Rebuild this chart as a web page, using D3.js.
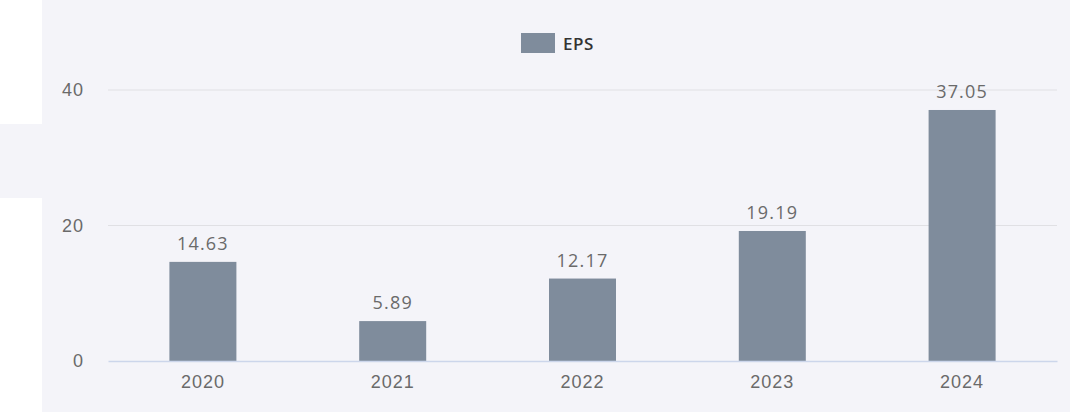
<!DOCTYPE html>
<html>
<head>
<meta charset="utf-8">
<script src="https://cdn.jsdelivr.net/npm/d3@7"></script>
<style>
  body { margin: 0; background: #f4f4f9; }
  svg { display: block; font-family: "Open Sans", "DejaVu Sans", sans-serif; }
</style>
</head>
<body>
<div id="container"></div>
<script>
/* DATA */
const years = ["2020", "2021", "2022", "2023", "2024"];
const eps = [14.63, 5.89, 12.17, 19.19, 37.05];
const yTicks = [0, 20, 40];
const seriesName = "EPS";

/* CONSTANTS */
const W = 1070, H = 412;
const margin = {top: 90, right: 13, bottom: 51, left: 108};
const width = W - margin.left - margin.right;
const height = H - margin.top - margin.bottom;
const barColor = "#7f8c9c";
const textColor = "#6a6a6a";

const svg = d3.select("#container")
  .append("svg")
  .attr("width", W)
  .attr("height", H);

svg.append("rect").attr("width", W).attr("height", H).attr("fill", "#f4f4f9");
// white strip on the left edge of the screenshot
svg.append("rect").attr("x", 0).attr("y", 0).attr("width", 42).attr("height", 124).attr("fill", "#ffffff");
svg.append("rect").attr("x", 0).attr("y", 198).attr("width", 42).attr("height", H - 198).attr("fill", "#ffffff");

const g = svg.append("g")
  .attr("transform", `translate(${margin.left},${margin.top})`);

/* SCALES */
const x = d3.scaleBand()
  .domain(years)
  .range([0, width])
  .paddingInner(0.647)
  .paddingOuter(0.3235);

const y = d3.scaleLinear()
  .domain([0, 40])
  .range([height, 0]);

/* GRID */
g.append("g")
  .selectAll("line")
  .data(yTicks.filter(d => d !== 0))
  .join("line")
  .attr("x1", 0).attr("x2", width)
  .attr("y1", d => y(d)).attr("y2", d => y(d))
  .attr("stroke", "#e0e0e4")
  .attr("stroke-width", 1);

/* Y AXIS */
const yAxis = g.append("g")
  .call(d3.axisLeft(y).tickValues(yTicks).tickSize(0).tickPadding(24));
yAxis.select(".domain").remove();
yAxis.selectAll("text")
  .attr("fill", textColor)
  .style("font-size", "18px")
  .style("letter-spacing", "1px");

/* BARS */
g.append("g")
  .selectAll("rect")
  .data(eps)
  .join("rect")
  .attr("x", (d, i) => x(years[i]))
  .attr("y", d => y(d))
  .attr("width", x.bandwidth())
  .attr("height", d => height - y(d))
  .attr("fill", barColor);

/* X AXIS */
const xAxis = g.append("g")
  .attr("transform", `translate(0,${height})`)
  .call(d3.axisBottom(x).tickSize(0).tickPadding(14));
xAxis.select(".domain").attr("stroke", "#ccd6eb").attr("stroke-width", 1.5);
xAxis.selectAll("text")
  .attr("fill", textColor)
  .style("font-size", "18px")
  .style("letter-spacing", "1px");

/* DATA LABELS */
g.append("g")
  .selectAll("text")
  .data(eps)
  .join("text")
  .attr("x", (d, i) => x(years[i]) + x.bandwidth() / 2)
  .attr("y", d => y(d) - 12)
  .attr("text-anchor", "middle")
  .attr("fill", textColor)
  .style("font-size", "18px")
  .style("letter-spacing", "1.2px")
  .text(d => d.toFixed(2));

/* LEGEND */
const legend = svg.append("g").attr("transform", "translate(521,33)");
legend.append("rect")
  .attr("width", 34).attr("height", 20)
  .attr("fill", barColor);
legend.append("text")
  .attr("x", 42).attr("y", 17)
  .attr("fill", "#333333")
  .style("font-size", "17px")
  .style("font-weight", "600")
  .style("letter-spacing", "0.5px")
  .text(seriesName);
</script>
</body>
</html>
